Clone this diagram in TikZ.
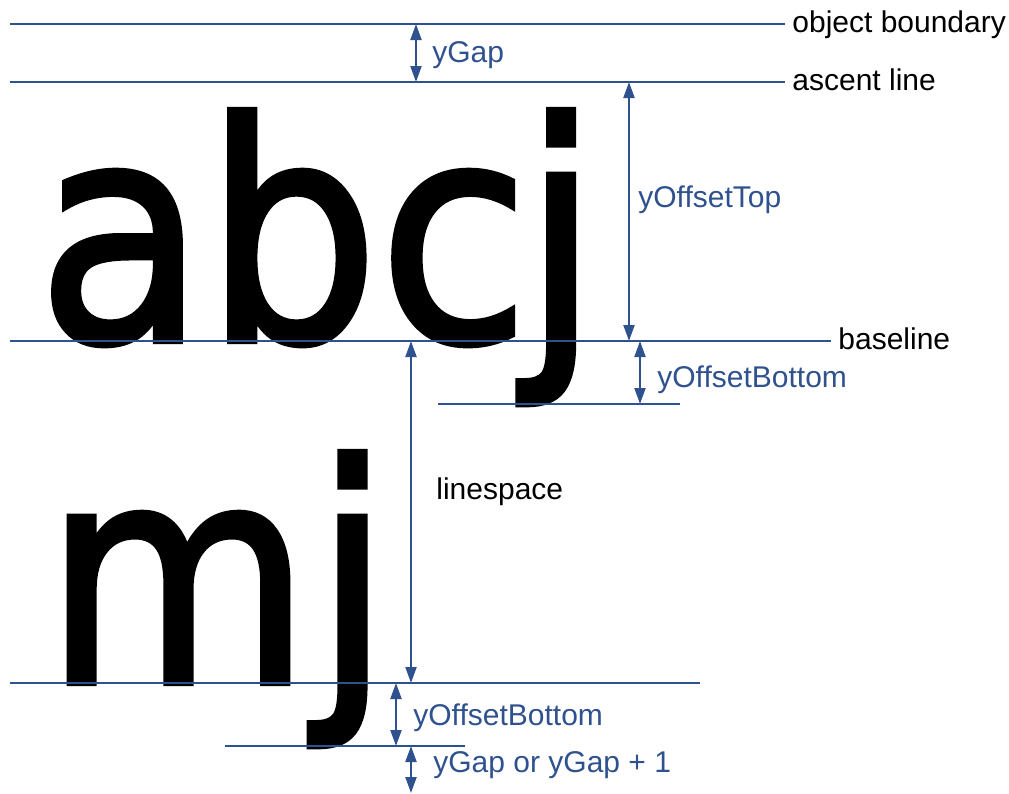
\documentclass[tikz,border=0pt]{standalone}
\usepackage{fontspec}
\setmainfont{Liberation Sans}
\newfontfamily\glyphfont[FakeBold=2]{DejaVu Sans}
\usepackage{xcolor}
\usetikzlibrary{positioning,calc,arrows.meta}
\definecolor{lineblue}{RGB}{47,82,143}
\tikzset{
  guide/.style={draw=lineblue, line width=1pt},
  dim/.style={draw=lineblue, line width=1pt, {Triangle[length=8pt,width=5.5pt]}-{Triangle[length=8pt,width=5.5pt]}},
  lbl/.style={font=\fontsize{15}{18}\selectfont, inner xsep=0pt, inner ysep=0pt, anchor=base west},
  tag/.style={lbl, inner xsep=3.5pt},
  dimlbl/.style={lbl, text=lineblue},
  glyphs/.style={font=\glyphfont\fontsize{152}{160}\selectfont, inner sep=0pt, anchor=base west}
}

\begin{document}
\begin{tikzpicture}[x=0.5pt, y=-0.5pt]
    \useasboundingbox (0,0) rectangle (1009,794);

    % sample text
    \node[glyphs] (row1) at (37,341) {\scalebox{0.9}[1]{abc\kern-3.5pt j}};
    \node[glyphs] (row2) at (44,683) {\scalebox{0.9}[1]{m\kern2pt j}};

    % reference lines
    \coordinate (ob-l) at (10,24);
    \coordinate (asc-l) at (10,82);
    \coordinate (base-l) at (10,341);
    \coordinate (base2-l) at (10,683);
    \coordinate (base2-r) at (700,683);
    \coordinate (desc-l) at (438,404);
    \coordinate (desc-r) at (680,404);
    \coordinate (desc2-l) at (225,746);
    \coordinate (desc2-r) at (465,746);
    \coordinate (bottom) at (411,793);

    \node[tag] (ob) at (785,32) {object boundary};
    \node[tag] (asc) at (785,90) {ascent line};
    \node[tag] (base) at (831,349) {baseline};

    \draw[guide] (ob-l) -- (ob-l -| ob.west);
    \draw[guide] (asc-l) -- (asc-l -| asc.west);
    \draw[guide] (base-l) -- (base-l -| base.west);
    \draw[guide] (desc-l) -- (desc-r);
    \draw[guide] (base2-l) -- (base2-r);
    \draw[guide] (desc2-l) -- (desc2-r);

    % dimensions
    \draw[dim] (ob-l -| 416,0) -- (asc-l -| 416,0);
    \draw[dim] (asc-l -| 629,0) -- (base-l -| 629,0);
    \draw[dim] (base-l -| 640,0) -- (desc-r -| 640,0);
    \draw[dim] (base-l -| 411,0) -- (base2-l -| 411,0);
    \draw[dim] (base2-l -| 396,0) -- (desc2-l -| 396,0);
    \draw[dim] (desc2-r -| 411,0) -- (bottom);

    \node[dimlbl] (gap) at (432,62) {yGap};
    \node[dimlbl] (top) at (638,207) {yOffsetTop};
    \node[dimlbl] (bot) at (657,387) {yOffsetBottom};
    \node[lbl] (lsp) at (436,499) {linespace};
    \node[dimlbl] (bot2) at (413,725) {yOffsetBottom};
    \node[dimlbl] (gap2) at (433,772) {yGap or yGap + 1};
\end{tikzpicture}
\end{document}
